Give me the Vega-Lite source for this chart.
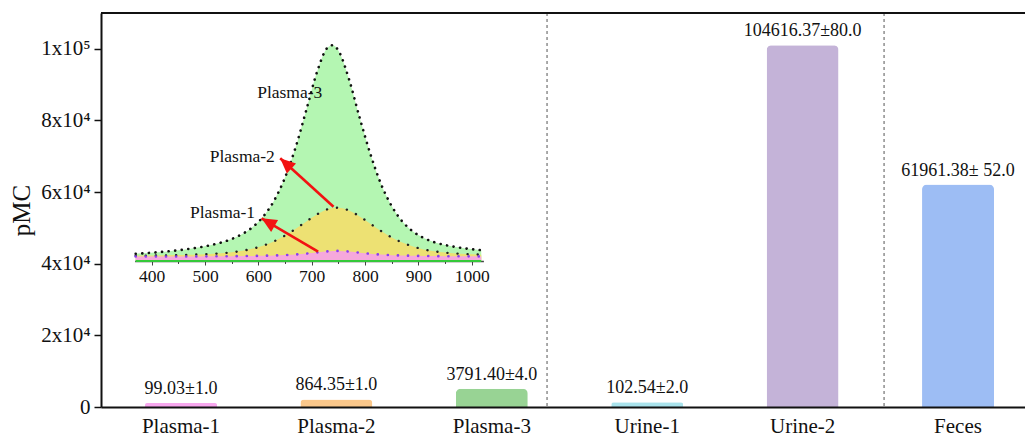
{
  "$schema": "https://vega.github.io/schema/vega-lite/v6.json",
  "width": 924,
  "height": 394,
  "autosize": "none",
  "padding": {"left": 101, "top": 13, "right": 0, "bottom": 33},
  "background": "white",
  "config": {"view": {"stroke": null}, "font": "Liberation Serif"},
  "datasets": {
    "bars": [
      {"sample": "Plasma-1", "pmc": 1100, "label": "99.03±1.0"},
      {"sample": "Plasma-2", "pmc": 2100, "label": "864.35±1.0"},
      {"sample": "Plasma-3", "pmc": 5100, "label": "3791.40±4.0"},
      {"sample": "Urine-1", "pmc": 1300, "label": "102.54±2.0"},
      {"sample": "Urine-2", "pmc": 101000, "label": "104616.37±80.0"},
      {"sample": "Feces", "pmc": 62100, "label": "61961.38± 52.0"}
    ],
    "curves": [
      {"x": 370, "green": 7.3, "yellow": 5.2, "pink": 4.45},
      {"x": 390, "green": 7.9, "yellow": 5.4, "pink": 4.47},
      {"x": 410, "green": 8.7, "yellow": 5.5, "pink": 4.49},
      {"x": 430, "green": 9.6, "yellow": 5.7, "pink": 4.51},
      {"x": 450, "green": 10.7, "yellow": 5.9, "pink": 4.54},
      {"x": 470, "green": 12.1, "yellow": 6.2, "pink": 4.57},
      {"x": 490, "green": 13.7, "yellow": 6.6, "pink": 4.62},
      {"x": 510, "green": 15.8, "yellow": 7.1, "pink": 4.67},
      {"x": 530, "green": 18.4, "yellow": 7.7, "pink": 4.73},
      {"x": 550, "green": 22.0, "yellow": 8.7, "pink": 4.82},
      {"x": 570, "green": 27.0, "yellow": 10.2, "pink": 4.93},
      {"x": 590, "green": 34.2, "yellow": 12.4, "pink": 5.07},
      {"x": 610, "green": 45.0, "yellow": 15.5, "pink": 5.27},
      {"x": 630, "green": 60.8, "yellow": 19.8, "pink": 5.55},
      {"x": 650, "green": 83.4, "yellow": 25.4, "pink": 5.96},
      {"x": 670, "green": 113.8, "yellow": 32.2, "pink": 6.55},
      {"x": 690, "green": 151.0, "yellow": 39.6, "pink": 7.39},
      {"x": 710, "green": 188.9, "yellow": 46.6, "pink": 8.52},
      {"x": 730, "green": 213.5, "yellow": 51.8, "pink": 9.65},
      {"x": 740, "green": 215.8, "yellow": 53.0, "pink": 10.0},
      {"x": 750, "green": 210.5, "yellow": 53.2, "pink": 10.1},
      {"x": 770, "green": 181.8, "yellow": 50.5, "pink": 9.45},
      {"x": 790, "green": 143.2, "yellow": 44.6, "pink": 8.28},
      {"x": 810, "green": 107.1, "yellow": 37.3, "pink": 7.2},
      {"x": 830, "green": 77.0, "yellow": 30.0, "pink": 6.41},
      {"x": 850, "green": 55.0, "yellow": 23.6, "pink": 5.86},
      {"x": 870, "green": 39.5, "yellow": 18.4, "pink": 5.49},
      {"x": 890, "green": 29.5, "yellow": 14.5, "pink": 5.23},
      {"x": 910, "green": 23.0, "yellow": 11.6, "pink": 5.04},
      {"x": 930, "green": 18.8, "yellow": 9.7, "pink": 4.9},
      {"x": 950, "green": 16.0, "yellow": 8.4, "pink": 4.8},
      {"x": 970, "green": 14.0, "yellow": 7.5, "pink": 4.72},
      {"x": 990, "green": 12.4, "yellow": 6.9, "pink": 4.66},
      {"x": 1018, "green": 10.8, "yellow": 6.3, "pink": 4.6}
    ],
    "insetLabels": [
      {"text": "Plasma-3", "x": 720, "h": 168},
      {"text": "Plasma-2", "x": 631, "h": 104},
      {"text": "Plasma-1", "x": 594, "h": 48}
    ],
    "arrows": [
      {"arrow": 1, "x": 712, "h": 9.3, "xe": 606, "he": 42.7},
      {"arrow": 2, "x": 741, "h": 54.3, "xe": 641, "he": 102.7}
    ]
  },
  "layer": [
    {
      "layer": [
        {
          "data": {"name": "bars"},
          "mark": {"type": "bar", "cornerRadiusTopLeft": 5, "cornerRadiusTopRight": 5},
          "encoding": {
            "x": {
              "field": "sample", "type": "nominal", "sort": null,
              "scale": {"domain": ["Plasma-1", "Plasma-2", "Plasma-3", "Urine-1", "Urine-2", "Feces"], "paddingInner": 0.5367, "paddingOuter": 0.2413, "align": 0.587},
              "axis": {"title": null, "labelAngle": 0, "ticks": false, "labelPadding": 8, "labelFontSize": 21, "labelColor": "#111", "domainColor": "#111", "domainWidth": 2, "zindex": 1}
            },
            "y": {
              "field": "pmc", "type": "quantitative",
              "scale": {"domain": [0, 110000], "nice": false},
              "axis": {
                "title": "pMC", "titleFontSize": 25, "titleFontWeight": "normal", "titleColor": "#111", "titlePadding": 6,
                "values": [0, 10000, 20000, 30000, 40000, 50000, 60000, 70000, 80000, 90000, 100000],
                "labelExpr": "datum.value === 0 ? '0' : (datum.value === 100000 ? '1x10⁵' : (datum.value % 20000 === 0 ? (datum.value / 10000) + 'x10⁴' : ''))",
                "labelFontSize": 21, "labelColor": "#111", "labelPadding": 4,
                "tickSize": {"condition": {"test": "datum.value % 20000 === 0", "value": 7}, "value": 4},
                "tickColor": "#111", "tickWidth": 1.5, "domainColor": "#111", "domainWidth": 2, "grid": false, "zindex": 1
              }
            },
            "color": {
              "field": "sample", "type": "nominal", "legend": null,
              "scale": {"domain": ["Plasma-1", "Plasma-2", "Plasma-3", "Urine-1", "Urine-2", "Feces"], "range": ["#f7a7ee", "#fbc88b", "#98d394", "#a9e3ec", "#c4b3d8", "#9dbdf4"]}
            }
          }
        },
        {
          "data": {"name": "bars"},
          "mark": {"type": "text", "baseline": "middle", "dy": -14, "fontSize": 18, "color": "#111"},
          "encoding": {
            "x": {"field": "sample", "type": "nominal", "sort": null},
            "y": {"field": "pmc", "type": "quantitative"},
            "text": {"field": "label"}
          }
        },
        {
          "data": {"values": [{"after": "Plasma-3"}]},
          "mark": {"type": "rule", "strokeDash": [3, 3], "color": "#555", "strokeWidth": 1},
          "encoding": {"x": {"field": "after", "type": "nominal", "bandPosition": 1.267}}
        },
        {
          "data": {"values": [{"after": "Urine-2"}]},
          "mark": {"type": "rule", "strokeDash": [3, 3], "color": "#555", "strokeWidth": 1},
          "encoding": {"x": {"field": "after", "type": "nominal", "bandPosition": 1.631}}
        },
        {
          "data": {"values": [{"top": 110000}]},
          "mark": {"type": "rule", "color": "#111", "strokeWidth": 2},
          "encoding": {"y": {"field": "top", "type": "quantitative"}}
        }
      ]
    },
    {
      "layer": [
        {
          "data": {"name": "curves"},
          "mark": {"type": "area", "interpolate": "monotone", "color": "#b4f6b2"},
          "encoding": {
            "x": {
              "field": "x", "type": "quantitative",
              "scale": {"domain": [368, 1022], "range": [33.6, 382.4], "nice": false, "zero": false},
              "axis": {
                "orient": "bottom", "offset": -146, "title": null, "grid": false, "format": "d",
                "values": [400, 450, 500, 550, 600, 650, 700, 750, 800, 850, 900, 950, 1000],
                "labelExpr": "datum.value % 100 === 0 ? datum.label : ''",
                "tickSize": {"condition": {"test": "datum.value % 100 === 0", "value": 4}, "value": 2.5},
                "labelFontSize": 17.5, "labelColor": "#111", "labelPadding": 2,
                "tickColor": "#444", "domainColor": "#444", "domainWidth": 1.5
              }
            },
            "y": {
              "field": "green", "type": "quantitative",
              "scale": {"domain": [0, 216], "range": [248, 32], "nice": false},
              "axis": null
            }
          }
        },
        {
          "data": {"name": "curves"},
          "mark": {"type": "area", "interpolate": "monotone", "color": "#ede173"},
          "encoding": {"x": {"field": "x", "type": "quantitative"}, "y": {"field": "yellow", "type": "quantitative"}}
        },
        {
          "data": {"name": "curves"},
          "mark": {"type": "area", "interpolate": "monotone", "color": "#f6a8dc"},
          "encoding": {"x": {"field": "x", "type": "quantitative"}, "y": {"field": "pink", "type": "quantitative"}}
        },
        {
          "data": {"values": [{"from": 370, "to": 1018, "base": 0}]},
          "mark": {"type": "rule", "color": "#35c93a", "strokeWidth": 2},
          "encoding": {
            "x": {"field": "from", "type": "quantitative"},
            "x2": {"field": "to"},
            "y": {"field": "base", "type": "quantitative"}
          }
        },
        {
          "data": {"name": "curves"},
          "mark": {"type": "line", "interpolate": "monotone", "color": "#111", "strokeWidth": 2.6, "strokeCap": "round", "strokeDash": [0.1, 6.5]},
          "encoding": {"x": {"field": "x", "type": "quantitative"}, "y": {"field": "green", "type": "quantitative"}}
        },
        {
          "data": {"name": "curves"},
          "mark": {"type": "line", "interpolate": "monotone", "color": "#222", "strokeWidth": 2.4, "strokeCap": "round", "strokeDash": [0.1, 10]},
          "encoding": {"x": {"field": "x", "type": "quantitative"}, "y": {"field": "yellow", "type": "quantitative"}}
        },
        {
          "data": {"name": "curves"},
          "mark": {"type": "line", "interpolate": "monotone", "color": "#8b3df2", "strokeWidth": 2.6, "strokeCap": "round", "strokeDash": [0.1, 10]},
          "encoding": {"x": {"field": "x", "type": "quantitative"}, "y": {"field": "pink", "type": "quantitative"}}
        },
        {
          "data": {"name": "insetLabels"},
          "mark": {"type": "text", "align": "right", "baseline": "middle", "fontSize": 17.5, "color": "#111"},
          "encoding": {
            "x": {"field": "x", "type": "quantitative"},
            "y": {"field": "h", "type": "quantitative"},
            "text": {"field": "text"}
          }
        },
        {
          "data": {"name": "arrows"},
          "mark": {"type": "rule", "color": "#f21212", "strokeWidth": 2.6},
          "encoding": {
            "x": {"field": "x", "type": "quantitative"},
            "y": {"field": "h", "type": "quantitative"},
            "x2": {"field": "xe"},
            "y2": {"field": "he"}
          }
        },
        {
          "data": {"name": "arrows"},
          "transform": [{"filter": "datum.arrow === 1"}],
          "mark": {"type": "point", "shape": "M0,0L-0.9,2L0.9,2Z", "filled": true, "color": "#f21212", "opacity": 1, "size": 230, "angle": 300.5},
          "encoding": {"x": {"field": "xe", "type": "quantitative"}, "y": {"field": "he", "type": "quantitative"}}
        },
        {
          "data": {"name": "arrows"},
          "transform": [{"filter": "datum.arrow === 2"}],
          "mark": {"type": "point", "shape": "M0,0L-0.9,2L0.9,2Z", "filled": true, "color": "#f21212", "opacity": 1, "size": 230, "angle": 312.2},
          "encoding": {"x": {"field": "xe", "type": "quantitative"}, "y": {"field": "he", "type": "quantitative"}}
        }
      ]
    }
  ],
  "resolve": {
    "scale": {"x": "independent", "y": "independent"},
    "axis": {"x": "independent", "y": "independent"}
  }
}
